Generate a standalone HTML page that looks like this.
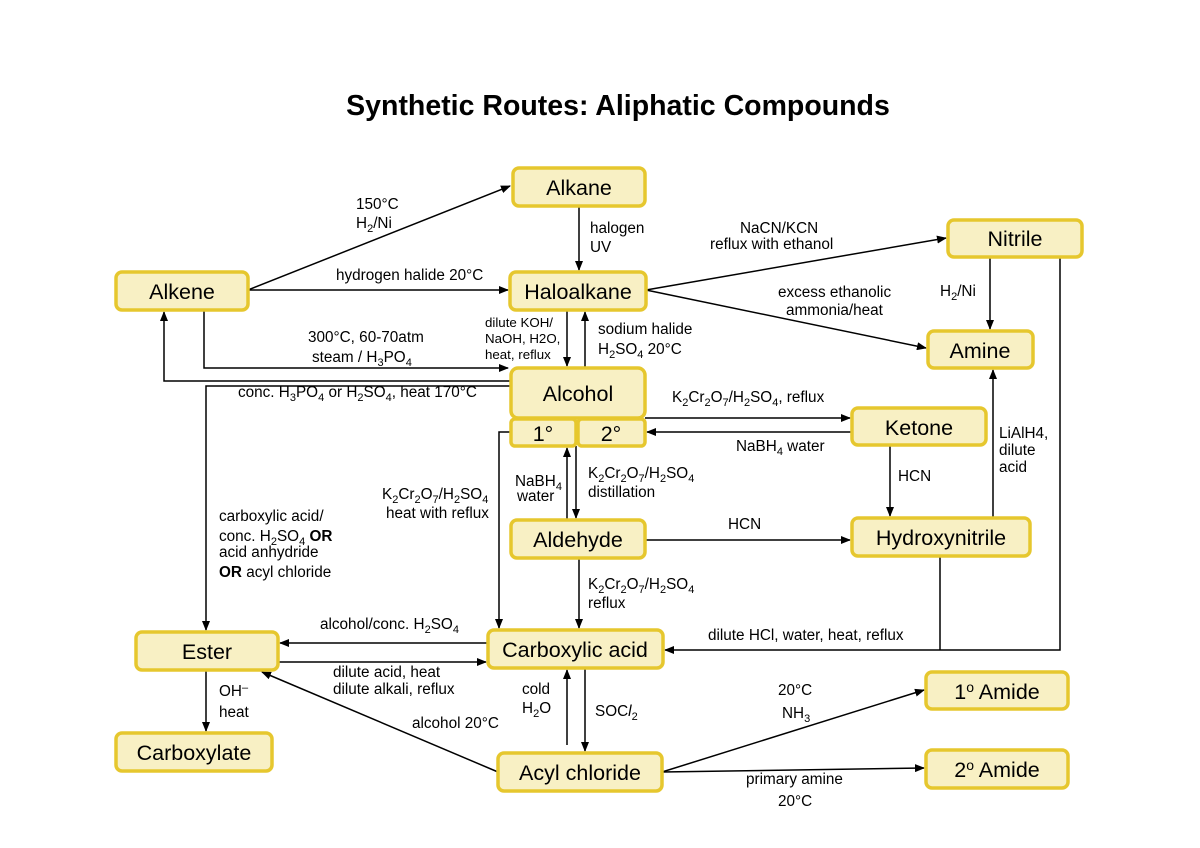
<!DOCTYPE html>
<html><head><meta charset="utf-8"><style>
body{margin:0;background:#fff}
svg{display:block}
text{font-family:"Liberation Sans",sans-serif;fill:#000}
.n{fill:#f8f0c4;stroke:#e6c72e;stroke-width:3.5}
.nt{font-size:21.5px;text-anchor:middle}
.l{font-size:15.3px}
.e{stroke:#000;stroke-width:1.5;fill:none}
</style></head><body>
<svg width="1200" height="848" viewBox="0 0 1200 848">
<defs><marker id="a" markerWidth="10" markerHeight="8" refX="9" refY="4" orient="auto" markerUnits="userSpaceOnUse"><path d="M0,0L10,4L0,8z" fill="#000"/></marker></defs>
<text x="618" y="115" font-size="28.5" font-weight="bold" text-anchor="middle">Synthetic Routes: Aliphatic Compounds</text>

<g class="e" marker-end="url(#a)">
<path d="M248,290L510,186"/>
<path d="M248,290H508"/>
<path d="M579,206V270"/>
<path d="M204,310V368H508"/>
<path d="M511,381H164V312"/>
<path d="M567,310V366"/>
<path d="M585,368V312"/>
<path d="M646,290L946,238"/>
<path d="M646,290L926,348"/>
<path d="M990,257V329"/>
<path d="M645,418H850"/>
<path d="M852,432H647"/>
<path d="M890,445V516"/>
<path d="M645,540H850"/>
<path d="M993,518V370"/>
<path d="M576,446V518"/>
<path d="M567,520V448"/>
<path d="M511,432H499V628"/>
<path d="M579,558V628"/>
<path d="M511,386H206V630"/>
<path d="M488,643H280"/>
<path d="M278,662H486"/>
<path d="M1060,257V650H665"/>
<path d="M206,670V731"/>
<path d="M498,772L262,672"/>
<path d="M567,745V670"/>
<path d="M585,668V751"/>
<path d="M662,772L924,690"/>
<path d="M662,772L924,768"/>
</g>
<path class="e" d="M940,556V650"/>

<rect class="n" x="513" y="168" width="132" height="38" rx="6"/><text class="nt" x="579" y="195">Alkane</text>
<rect class="n" x="116" y="272" width="132" height="38" rx="6"/><text class="nt" x="182" y="299">Alkene</text>
<rect class="n" x="510" y="272" width="136" height="38" rx="6"/><text class="nt" x="578" y="299">Haloalkane</text>
<rect class="n" x="948" y="220" width="134" height="37" rx="6"/><text class="nt" x="1015" y="246">Nitrile</text>
<rect class="n" x="928" y="331" width="105" height="37" rx="6"/><text class="nt" x="980" y="358">Amine</text>
<rect class="n" x="511" y="368" width="134" height="50" rx="7"/><text class="nt" x="578" y="401">Alcohol</text>
<rect class="n" x="511" y="419" width="65" height="27" rx="4"/><text class="nt" x="543" y="441">1°</text>
<rect class="n" x="578" y="419" width="67" height="27" rx="4"/><text class="nt" x="611" y="441">2°</text>
<rect class="n" x="852" y="408" width="134" height="37" rx="6"/><text class="nt" x="919" y="435">Ketone</text>
<rect class="n" x="511" y="520" width="134" height="38" rx="6"/><text class="nt" x="578" y="547">Aldehyde</text>
<rect class="n" x="852" y="518" width="178" height="38" rx="6"/><text class="nt" x="941" y="545">Hydroxynitrile</text>
<rect class="n" x="136" y="632" width="142" height="38" rx="6"/><text class="nt" x="207" y="659">Ester</text>
<rect class="n" x="488" y="630" width="175" height="38" rx="6"/><text class="nt" x="575" y="657">Carboxylic acid</text>
<rect class="n" x="926" y="672" width="142" height="37" rx="6"/><text class="nt" x="997" y="699">1<tspan font-size="14" dy="-7">o</tspan><tspan dy="7"> Amide</tspan></text>
<rect class="n" x="116" y="733" width="156" height="38" rx="6"/><text class="nt" x="194" y="760">Carboxylate</text>
<rect class="n" x="498" y="753" width="164" height="38" rx="6"/><text class="nt" x="580" y="780">Acyl chloride</text>
<rect class="n" x="926" y="750" width="142" height="38" rx="6"/><text class="nt" x="997" y="777">2<tspan font-size="14" dy="-7">o</tspan><tspan dy="7"> Amide</tspan></text>

<g class="l">
<text x="356" y="209">150°C</text>
<text x="356" y="228">H<tspan font-size="11" dy="4">2</tspan><tspan dy="-4">/Ni</tspan></text>
<text x="336" y="280">hydrogen halide  20°C</text>
<text x="590" y="233">halogen</text><text x="590" y="252">UV</text>
<text x="308" y="342">300°C, 60-70atm</text>
<text x="312" y="362">steam / H<tspan font-size="11" dy="4">3</tspan><tspan dy="-4">PO</tspan><tspan font-size="11" dy="4">4</tspan></text>
<text x="238" y="397">conc. H<tspan font-size="11" dy="4">3</tspan><tspan dy="-4">PO</tspan><tspan font-size="11" dy="4">4</tspan><tspan dy="-4"> or  H</tspan><tspan font-size="11" dy="4">2</tspan><tspan dy="-4">SO</tspan><tspan font-size="11" dy="4">4</tspan><tspan dy="-4">, heat 170°C</tspan></text>
<g font-size="13.3"><text x="485" y="327">dilute KOH/</text><text x="485" y="343">NaOH, H2O,</text><text x="485" y="359">heat, reflux</text></g>
<text x="598" y="334">sodium halide</text>
<text x="598" y="354">H<tspan font-size="11" dy="4">2</tspan><tspan dy="-4">SO</tspan><tspan font-size="11" dy="4">4</tspan><tspan dy="-4">  20°C</tspan></text>
<text x="740" y="233">NaCN/KCN</text>
<text x="710" y="249">reflux with ethanol</text>
<text x="778" y="297">excess ethanolic</text>
<text x="786" y="315">ammonia/heat</text>
<text x="940" y="296">H<tspan font-size="11" dy="4">2</tspan><tspan dy="-4">/Ni</tspan></text>
<text x="672" y="402">K<tspan font-size="11" dy="4">2</tspan><tspan dy="-4">Cr</tspan><tspan font-size="11" dy="4">2</tspan><tspan dy="-4">O</tspan><tspan font-size="11" dy="4">7</tspan><tspan dy="-4">/H</tspan><tspan font-size="11" dy="4">2</tspan><tspan dy="-4">SO</tspan><tspan font-size="11" dy="4">4</tspan><tspan dy="-4">, reflux</tspan></text>
<text x="736" y="451">NaBH<tspan font-size="11" dy="4">4</tspan><tspan dy="-4"> water</tspan></text>
<text x="898" y="481">HCN</text>
<text x="728" y="529">HCN</text>
<text x="999" y="438">LiAlH4,</text><text x="999" y="455">dilute</text><text x="999" y="472">acid</text>
<text x="515" y="486">NaBH<tspan font-size="11" dy="4">4</tspan></text><text x="517" y="501">water</text>
<text x="588" y="478">K<tspan font-size="11" dy="4">2</tspan><tspan dy="-4">Cr</tspan><tspan font-size="11" dy="4">2</tspan><tspan dy="-4">O</tspan><tspan font-size="11" dy="4">7</tspan><tspan dy="-4">/H</tspan><tspan font-size="11" dy="4">2</tspan><tspan dy="-4">SO</tspan><tspan font-size="11" dy="4">4</tspan></text>
<text x="588" y="497">distillation</text>
<text x="382" y="499">K<tspan font-size="11" dy="4">2</tspan><tspan dy="-4">Cr</tspan><tspan font-size="11" dy="4">2</tspan><tspan dy="-4">O</tspan><tspan font-size="11" dy="4">7</tspan><tspan dy="-4">/H</tspan><tspan font-size="11" dy="4">2</tspan><tspan dy="-4">SO</tspan><tspan font-size="11" dy="4">4</tspan></text>
<text x="386" y="518">heat with reflux</text>
<text x="219" y="521">carboxylic acid/</text>
<text x="219" y="541">conc. H<tspan font-size="11" dy="4">2</tspan><tspan dy="-4">SO</tspan><tspan font-size="11" dy="4">4</tspan><tspan dy="-4" font-weight="bold"> OR</tspan></text>
<text x="219" y="557">acid anhydride</text>
<text x="219" y="577"><tspan font-weight="bold">OR</tspan> acyl chloride</text>
<text x="588" y="589">K<tspan font-size="11" dy="4">2</tspan><tspan dy="-4">Cr</tspan><tspan font-size="11" dy="4">2</tspan><tspan dy="-4">O</tspan><tspan font-size="11" dy="4">7</tspan><tspan dy="-4">/H</tspan><tspan font-size="11" dy="4">2</tspan><tspan dy="-4">SO</tspan><tspan font-size="11" dy="4">4</tspan></text>
<text x="588" y="608">reflux</text>
<text x="320" y="629">alcohol/conc. H<tspan font-size="11" dy="4">2</tspan><tspan dy="-4">SO</tspan><tspan font-size="11" dy="4">4</tspan></text>
<text x="708" y="640">dilute HCl, water, heat, reflux</text>
<text x="333" y="677">dilute acid, heat</text>
<text x="333" y="694">dilute alkali, reflux</text>
<text x="219" y="696">OH<tspan font-size="11" dy="-5">–</tspan></text>
<text x="219" y="717">heat</text>
<text x="522" y="694">cold</text>
<text x="522" y="713">H<tspan font-size="11" dy="4">2</tspan><tspan dy="-4">O</tspan></text>
<text x="595" y="716">SOC<tspan font-style="italic">l</tspan><tspan font-size="11" dy="4">2</tspan></text>
<text x="412" y="728">alcohol 20°C</text>
<text x="778" y="695">20°C</text>
<text x="782" y="718">NH<tspan font-size="11" dy="4">3</tspan></text>
<text x="746" y="784">primary amine</text>
<text x="778" y="806">20°C</text>
</g>
</svg>
</body></html>
